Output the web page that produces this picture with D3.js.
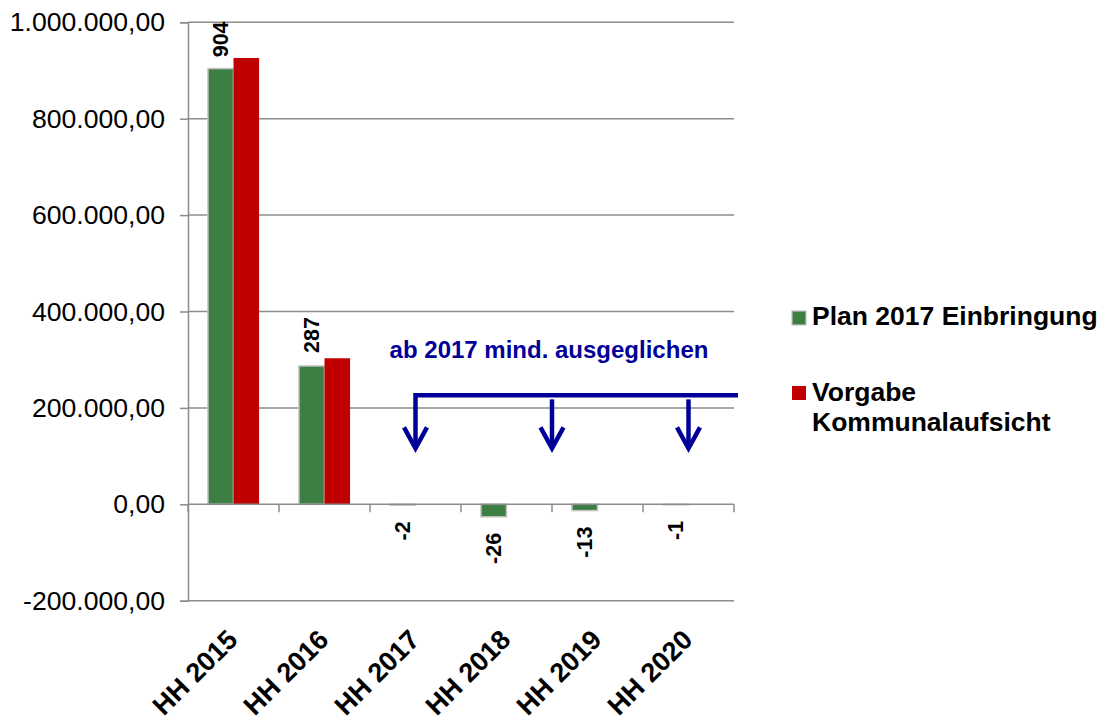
<!DOCTYPE html>
<html>
<head>
<meta charset="utf-8">
<script src="https://cdn.jsdelivr.net/npm/d3@7"></script>
<style>
  html, body { margin: 0; padding: 0; background: #ffffff; }
  svg { display: block; font-family: "Liberation Sans", Arial, Helvetica, sans-serif; }
</style>
</head>
<body>
<svg id="chart" width="1101" height="724"></svg>
<script>
// ---- data ----
const categories = ["HH 2015", "HH 2016", "HH 2017", "HH 2018", "HH 2019", "HH 2020"];
const seriesNames = ["Plan 2017 Einbringung", "Vorgabe Kommunalaufsicht"];
const planValues = [904000, 287000, -2000, -26000, -13000, -1000];
const vorgabeValues = [926000, 303000, 0, 0, 0, 0];
const yTicks = [-200000, 0, 200000, 400000, 600000, 800000, 1000000];
const annotationText = "ab 2017 mind. ausgeglichen";
const bracketValue = 226000;

// ---- setup ----
const svg = d3.select("#chart");
const plot = { left: 188, right: 734, top: 22.3, bottom: 600.7 };
const colors = { plan: "#3d7f42", vorgabe: "#c00000", grid: "#8c8c8c", blue: "#000099" };

const de = d3.formatLocale({ decimal: ",", thousands: ".", grouping: [3], currency: ["", " €"], minus: "-" });
const fmt = de.format(",.2f");

const x0 = d3.scaleBand().domain(categories).range([plot.left, plot.right]).paddingInner(0).paddingOuter(0);
const x1 = d3.scaleBand().domain(seriesNames).range([0, x0.bandwidth()]).paddingInner(0).paddingOuter(0.78);
const y = d3.scaleLinear().domain([-200000, 1000000]).range([plot.bottom, plot.top]);

// gridlines
svg.append("g").selectAll("line").data(yTicks.filter(d => d !== 0)).join("line")
  .attr("x1", plot.left).attr("x2", plot.right)
  .attr("y1", d => y(d)).attr("y2", d => y(d))
  .attr("stroke", colors.grid).attr("stroke-width", 1.5);

// y axis
const yAxis = svg.append("g").attr("transform", `translate(${plot.left},0)`)
  .call(d3.axisLeft(y).tickValues(yTicks).tickFormat(fmt).tickSize(8).tickPadding(15));
yAxis.select(".domain").attr("stroke", colors.grid).attr("stroke-width", 1.5);
yAxis.selectAll(".tick line").attr("stroke", colors.grid).attr("stroke-width", 1.5);
yAxis.selectAll(".tick text").attr("font-size", 26.6).attr("fill", "#000")
  .attr("font-family", "'Liberation Sans', Arial, sans-serif");

// bars
const rows = categories.map((c, i) => ({ cat: c, plan: planValues[i], vorgabe: vorgabeValues[i] }));

const g = svg.append("g");
g.selectAll("rect.plan").data(rows).join("rect").attr("class", "plan")
  .attr("x", d => x0(d.cat) + x1(seriesNames[0]))
  .attr("width", x1.bandwidth())
  .attr("y", d => y(Math.max(0, d.plan)))
  .attr("height", d => Math.abs(y(d.plan) - y(0)))
  .attr("fill", colors.plan)
  .attr("stroke", "#c4c4c4").attr("stroke-width", 1.5);
g.selectAll("rect.vorgabe").data(rows.filter(d => d.vorgabe !== 0)).join("rect").attr("class", "vorgabe")
  .attr("x", d => x0(d.cat) + x1(seriesNames[1]))
  .attr("width", x1.bandwidth())
  .attr("y", d => y(Math.max(0, d.vorgabe)))
  .attr("height", d => Math.abs(y(d.vorgabe) - y(0)))
  .attr("fill", colors.vorgabe);

// x axis at zero
const xAxisG = svg.append("g");
xAxisG.append("line").attr("x1", plot.left).attr("x2", plot.right)
  .attr("y1", y(0)).attr("y2", y(0)).attr("stroke", colors.grid).attr("stroke-width", 1.5);
const boundaries = categories.map(c => x0(c)).concat([plot.right]);
xAxisG.selectAll("line.tk").data(boundaries).join("line").attr("class", "tk")
  .attr("x1", d => d).attr("x2", d => d)
  .attr("y1", y(0)).attr("y2", y(0) + 8)
  .attr("stroke", colors.grid).attr("stroke-width", 1.5);

// x category labels (rotated)
svg.append("g").selectAll("text").data(categories).join("text")
  .attr("transform", d => `translate(${x0(d) + x0.bandwidth() / 2 - 1},${plot.bottom + 34}) rotate(-45)`)
  .attr("text-anchor", "end")
  .attr("dy", "0.35em")
  .attr("font-size", 27).attr("font-weight", "bold").attr("fill", "#000")
  .text(d => d);

// data labels for plan series
svg.append("g").selectAll("text").data(rows).join("text")
  .attr("transform", d => {
    const cx = x0(d.cat) + x1(seriesNames[0]) + x1.bandwidth() / 2;
    const yy = d.plan >= 0 ? Math.max(y(d.plan) - 13, plot.top + 35) : y(d.plan) + 16;
    return `translate(${cx},${yy}) rotate(-90)`;
  })
  .attr("text-anchor", d => d.plan >= 0 ? "start" : "end")
  .attr("dy", "0.35em")
  .attr("font-size", 21.5).attr("font-weight", "bold").attr("fill", "#000")
  .text(d => Math.round(d.plan / 1000));

// annotation
const ann = svg.append("g");
const lineY = y(bracketValue);
const arrowXs = [
  x0("HH 2017") + x0.bandwidth() / 2,
  x0("HH 2019"),
  x0("HH 2020") + x0.bandwidth() / 2
];
ann.append("text")
  .attr("x", x0("HH 2019") - 3).attr("y", lineY - 37)
  .attr("text-anchor", "middle")
  .attr("font-size", 24).attr("font-weight", "bold").attr("fill", colors.blue)
  .text(annotationText);
ann.append("polyline")
  .attr("points", `${plot.right + 4},${lineY} ${arrowXs[0]},${lineY} ${arrowXs[0]},${lineY + 52}`)
  .attr("fill", "none").attr("stroke", colors.blue).attr("stroke-width", 4.5);
arrowXs.slice(1).forEach(ax => {
  ann.append("line").attr("x1", ax).attr("x2", ax).attr("y1", lineY + 4).attr("y2", lineY + 53)
    .attr("stroke", colors.blue).attr("stroke-width", 4.5);
});
arrowXs.forEach(ax => {
  ann.append("polyline")
    .attr("points", `${ax - 11.5},${lineY + 32} ${ax},${lineY + 53} ${ax + 11.5},${lineY + 32}`)
    .attr("fill", "none").attr("stroke", colors.blue).attr("stroke-width", 4.5)
    .attr("stroke-linejoin", "miter");
});

// legend
const legend = svg.append("g");
legend.append("rect").attr("x", 792).attr("y", 311).attr("width", 14).attr("height", 14)
  .attr("fill", colors.plan).attr("stroke", "#c4c4c4").attr("stroke-width", 1.2);
legend.append("text").attr("x", 812).attr("y", 325)
  .attr("font-size", 26.5).attr("font-weight", "bold").attr("fill", "#000").text(seriesNames[0]);
legend.append("rect").attr("x", 792).attr("y", 386).attr("width", 14).attr("height", 14)
  .attr("fill", colors.vorgabe);
const lt = legend.append("text").attr("x", 812).attr("y", 401)
  .attr("font-size", 26.5).attr("font-weight", "bold").attr("fill", "#000");
lt.append("tspan").attr("x", 812).attr("y", 401).text("Vorgabe");
lt.append("tspan").attr("x", 812).attr("y", 431).text("Kommunalaufsicht");
</script>
</body>
</html>
